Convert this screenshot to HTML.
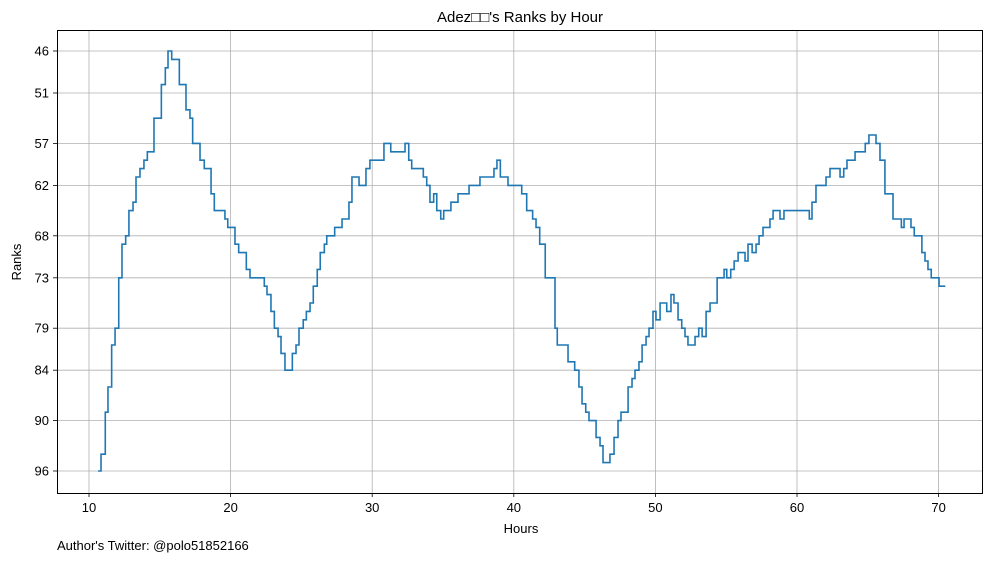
<!DOCTYPE html>
<html><head><meta charset="utf-8"><style>
body{margin:0;background:#fff;}
svg text{font-family:"Liberation Sans","DejaVu Sans",sans-serif;fill:#000;}
</style></head><body>
<svg id="chart" width="997" height="562" xmlns="http://www.w3.org/2000/svg">
<rect width="997" height="562" fill="#fff"/>
<g id="grid"></g>
<path id="line" fill="none" stroke="#1f77b4" stroke-width="1.6"/>
<rect x="57.5" y="30.5" width="925" height="463" fill="none" stroke="#000" stroke-width="1"/>
<g id="ticks"></g>
<text x="520" y="22" font-size="15" text-anchor="middle">Adez□□'s Ranks by Hour</text>
<text x="521" y="533" font-size="13" text-anchor="middle">Hours</text>
<text x="21" y="262" font-size="13" text-anchor="middle" transform="rotate(-90 21 262)">Ranks</text>
<text x="57" y="550" font-size="13">Author's Twitter: @polo51852166</text>
</svg>
<script>
const hours=[10.64,10.85,11.15,11.34,11.60,11.84,12.10,12.33,12.59,12.82,13.11,13.32,13.60,13.88,14.12,14.59,15.11,15.39,15.58,15.84,16.38,16.85,17.13,17.32,17.84,18.14,18.62,18.85,19.60,19.80,20.31,20.57,21.11,21.37,22.38,22.57,22.85,23.09,23.35,23.56,23.84,24.36,24.62,24.83,25.13,25.35,25.61,25.84,26.12,26.33,26.62,26.79,27.35,27.87,28.36,28.57,29.07,29.56,29.84,30.83,31.31,32.32,32.58,32.79,33.61,33.85,34.08,34.34,34.56,34.84,35.05,35.56,36.06,36.84,37.61,38.60,38.81,39.05,39.59,40.56,40.91,41.33,41.57,41.83,42.22,42.91,43.07,43.83,44.30,44.60,44.82,45.08,45.31,45.81,46.09,46.30,46.79,47.08,47.36,47.57,48.07,48.35,48.56,48.84,49.06,49.34,49.55,49.83,50.04,50.33,50.80,51.10,51.31,51.60,51.86,52.09,52.30,52.80,53.06,53.30,53.58,53.86,54.36,54.85,55.04,55.32,55.56,55.84,56.33,56.54,56.83,57.11,57.32,57.60,58.09,58.31,58.80,59.08,60.87,61.06,61.34,62.05,62.33,63.04,63.30,63.53,64.10,64.82,65.08,65.58,65.86,66.21,66.78,67.37,67.56,68.05,68.28,68.82,69.04,69.25,69.48,70.03];
const ranks=[96,94,89,86,81,79,73,69,68,65,64,61,60,59,58,54,50,48,46,47,50,53,54,57,59,60,63,65,66,67,69,70,72,73,74,75,77,79,80,82,84,82,81,79,78,77,76,74,72,70,69,68,67,66,64,61,62,60,59,57,58,57,59,60,61,62,64,63,65,66,65,64,63,62,61,60,59,61,62,63,65,66,67,69,73,79,81,83,84,86,88,89,90,92,93,95,94,92,90,89,86,85,84,83,81,80,79,77,78,76,77,75,76,78,79,80,81,80,79,80,77,76,73,72,73,72,71,70,71,69,70,69,68,67,66,65,66,65,66,64,62,61,60,61,60,59,58,57,56,57,59,63,66,67,66,67,68,70,71,72,73,74];
const lastHour=70.47;
const xTicks=[10,20,30,40,50,60,70];
const yTicks=[46,51,57,62,68,73,79,84,90,96];

const X=h=>89+(h-10)*14.16;
const Y=r=>51+(r-46)*8.4;
const NS="http://www.w3.org/2000/svg";
const grid=document.getElementById('grid'), ticks=document.getElementById('ticks');
function mk(tag,attrs,parent){const e=document.createElementNS(NS,tag);for(const k in attrs)e.setAttribute(k,attrs[k]);parent.appendChild(e);return e;}
xTicks.forEach(v=>{
  const x=X(v);
  const g=mk('line',{x1:x,x2:x,y1:30,y2:493,stroke:'#b0b0b0','stroke-width':0.8},grid);
  
  
  const t=mk('line',{x1:x,x2:x,y1:493,y2:497,stroke:'#000','stroke-width':0.8},ticks);
  
  
  const l=mk('text',{x:x,y:512,'font-size':13,'text-anchor':'middle'},ticks);
  l.textContent=v;
  
  
});
yTicks.forEach(r=>{
  const y=Y(r);
  const g=mk('line',{x1:57,x2:982,y1:y,y2:y,stroke:'#b0b0b0','stroke-width':0.8},grid);
  
  
  const t=mk('line',{x1:53,x2:57,y1:y,y2:y,stroke:'#000','stroke-width':0.8},ticks);
  
  
  const l=mk('text',{x:49,y:y+4.5,'font-size':13,'text-anchor':'end'},ticks);
  l.textContent=r;
  
  
});
let d='';
for(let i=0;i<hours.length;i++){
  const x=X(hours[i]), y=Y(ranks[i]);
  d+=(i===0?'M'+x+' '+y:'V'+y)+' ';
  const nx=i<hours.length-1?X(hours[i+1]):X(lastHour);
  d+='H'+nx+' ';
}
document.getElementById('line').setAttribute('d',d);
</script>
</body></html>
